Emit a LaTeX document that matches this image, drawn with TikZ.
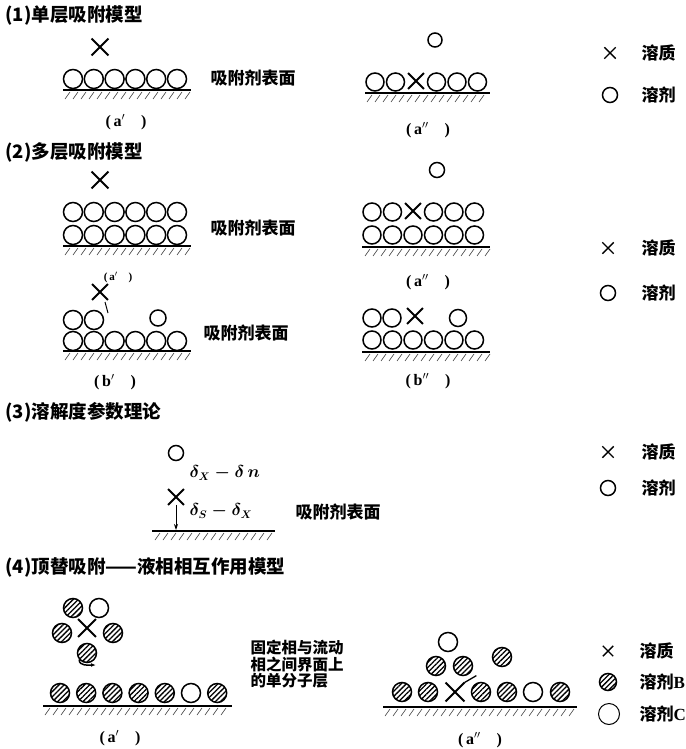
\documentclass[tikz,border=0pt]{standalone}
\usepackage{fontspec}
\setmainfont{Liberation Serif}
\newfontfamily\cjk{Noto Sans CJK SC}
\usepackage{tikz}
\usetikzlibrary{arrows.meta,shapes.misc,patterns.meta}

\begin{document}
\begin{tikzpicture}[x=1pt,y=-1pt,
  sv/.style={circle,draw,line width=1.5pt,minimum size=19pt,inner sep=0pt},
  svh/.style={sv,pattern={Lines[angle=45,distance=3.6pt,line width=1.3pt]}},
  sl/.style={cross out,draw,line width=1.8pt,minimum size=14pt,inner sep=0pt},
  surf/.style={line width=1.2pt},
  hat/.style={line width=0.6pt,black!75},
  ttl/.style={font=\cjk\bfseries\fontsize{18.5}{18.5}\selectfont,anchor=west},
  lab/.style={font=\cjk\bfseries\fontsize{17}{17}\selectfont,anchor=west},
  capt/.style={font=\bfseries\fontsize{16}{16}\selectfont},
  dlt/.style={font=\bfseries\boldmath\fontsize{16}{16}\selectfont,anchor=west}
]
  \path[use as bounding box,fill=white] (0,0) rectangle (685,749);

  \node[ttl] (t1) at (2,15) {(1)单层吸附模型};
  \node[sl,minimum size=15pt] (x1a) at (100,47) {};
  \foreach \i in {0,...,5} \node[sv] (r1a\i) at (73+20.8*\i,79) {};
  \draw[surf] (63,90) -- (191,90);
  \foreach \x in {70,78,...,190} \draw[hat] (\x,92) -- ++(-5,7);
  \node[lab] (s1a) at (207,78) {吸附剂表面};
  \node[capt] (c1a) at (126,122) {(\,a$'$\quad)};

  \node[sv,minimum size=14pt] (o1b) at (435,40) {};
  \foreach \i/\k in {0/sv,1/sv,3/sv,4/sv,5/sv} \node[\k,minimum size=18pt] (r1b\i) at (375+20.5*\i,82) {};
  \node[sl] (r1b2) at (416,81) {};
  \draw[surf] (365,93) -- (490,93);
  \foreach \x in {372,380,...,490} \draw[hat] (\x,95) -- ++(-5,7);
  \node[capt] (c1b) at (428,130) {(\,a$''$\quad)};

  \node[sl,minimum size=10pt,line width=1.4pt] (k1x) at (610,53) {};
  \node[lab] (k1xl) at (638,53) {溶质};
  \node[sv,minimum size=15pt] (k1o) at (610,95) {};
  \node[lab] (k1ol) at (638,95) {溶剂};

  \node[ttl] (t2) at (2,152) {(2)多层吸附模型};
  \node[sl,minimum size=15pt] (x2a) at (100,180) {};
  \foreach \i in {0,...,5} {
    \node[sv] (r2a\i) at (73+20.8*\i,212) {};
    \node[sv] (q2a\i) at (73+20.8*\i,235) {};
  }
  \draw[surf] (63,246) -- (191,246);
  \foreach \x in {70,78,...,190} \draw[hat] (\x,248) -- ++(-5,7);
  \node[lab] (s2a) at (207,228) {吸附剂表面};
  \node[capt,font=\bfseries\fontsize{11}{11}\selectfont] (c2a) at (118,277) {(\,a$'$\quad)};

  \node[sl] (x2b) at (100,292) {};
  \draw[line width=1pt] (105,302) -- (108,313);
  \node[sv] (r2b0) at (73,320) {};
  \node[sv] (r2b1) at (94,320) {};
  \node[sv,minimum size=16pt] (r2b2) at (158,318) {};
  \foreach \i in {0,...,5} \node[sv] (q2b\i) at (73+20.8*\i,341) {};
  \draw[surf] (63,351) -- (191,351);
  \foreach \x in {70,78,...,190} \draw[hat] (\x,353) -- ++(-5,7);
  \node[lab] (s2b) at (200,333) {吸附剂表面};
  \node[capt] (c2b) at (115,382) {(\,b$'$\quad)};

  \node[sv,minimum size=15pt] (o2c) at (437,170) {};
  \foreach \i in {0,...,5} \node[sv,minimum size=18pt] (q2c\i) at (372+20.5*\i,235) {};
  \foreach \i in {0,1,3,4,5} \node[sv,minimum size=18pt] (r2c\i) at (372+20.5*\i,212) {};
  \node[sl] (r2c2) at (413,211) {};
  \draw[surf] (362,247) -- (490,247);
  \foreach \x in {370,378,...,490} \draw[hat] (\x,249) -- ++(-5,7);
  \node[capt] (c2c) at (428,282) {(\,a$''$\quad)};

  \node[sv,minimum size=18pt] (r2d0) at (372,318) {};
  \node[sv,minimum size=18pt] (r2d1) at (392,318) {};
  \node[sl] (r2d2) at (415,316) {};
  \node[sv,minimum size=17pt] (r2d3) at (458,318) {};
  \foreach \i in {0,...,5} \node[sv,minimum size=18pt] (q2d\i) at (372+20.5*\i,340) {};
  \draw[surf] (362,352) -- (490,352);
  \foreach \x in {370,378,...,490} \draw[hat] (\x,354) -- ++(-5,7);
  \node[capt] (c2d) at (428,381) {(\,b$''$\quad)};

  \node[sl,minimum size=10pt,line width=1.4pt] (k2x) at (608,248) {};
  \node[lab] (k2xl) at (638,248) {溶质};
  \node[sv,minimum size=15pt] (k2o) at (608,293) {};
  \node[lab] (k2ol) at (638,293) {溶剂};

  \node[ttl] (t3) at (2,412) {(3)溶解度参数理论};
  \node[sv,minimum size=15pt] (o3) at (176,453) {};
  \node[dlt] (d3a) at (186,473) {$\delta_{X}-\delta\,n$};
  \node[sl] (x3) at (176,497) {};
  \coordinate (g3) at (176,530);
  \draw[-{Stealth[length=6pt,width=4pt]},line width=0.9pt] (x3) -- (g3);
  \node[dlt] (d3b) at (186,511) {$\delta_{S}-\delta_{X}$};
  \node[lab] (s3) at (292,512) {吸附剂表面};
  \draw[surf] (152,531) -- (275,531);
  \foreach \x in {160,168,...,275} \draw[hat] (\x,533) -- ++(-5,7);

  \node[sl,minimum size=10pt,line width=1.4pt] (k3x) at (608,452) {};
  \node[lab] (k3xl) at (638,452) {溶质};
  \node[sv,minimum size=15pt] (k3o) at (608,488) {};
  \node[lab] (k3ol) at (638,488) {溶剂};

  \node[ttl] (t4) at (2,567) {(4)顶替吸附——液相相互作用模型};
  \node[svh] (h4a) at (73,608) {};
  \node[sv] (o4a) at (99,608) {};
  \node[svh] (h4b) at (62,633) {};
  \node[sl,minimum size=16pt] (x4a) at (87,628) {};
  \node[svh] (h4c) at (113,633) {};
  \node[svh] (h4d) at (87,653) {};
  \coordinate (e4) at (96,665);
  \draw[-{Latex[length=5pt]},line width=1.5pt] (h4d.220) to[out=-90,in=180] (e4);
  \foreach \i/\k in {0/svh,1/svh,2/svh,3/svh,4/svh,5/sv,6/svh} \node[\k] (r4a\i) at (60+26.2*\i,693) {};
  \draw[surf] (43,706) -- (232,706);
  \foreach \x in {50,58,...,232} \draw[hat] (\x,708) -- ++(-5,7);
  \node[lab,anchor=north west,align=left,font=\cjk\bfseries\fontsize{15.5}{16.5}\selectfont] (m4) at (247,637) {固定相与流动\\相之间界面上\\的单分子层};
  \node[capt] (c4a) at (120,738) {(\,a$'$\quad)};

  \node[sv] (o4b) at (448,642) {};
  \node[svh] (h4e) at (436,666) {};
  \node[svh] (h4f) at (463,666) {};
  \node[svh] (h4g) at (502,657) {};
  \foreach \i/\x in {0/402,1/428,3/481,4/507,6/560} \node[svh] (r4b\i) at (\x,692) {};
  \node[sv] (r4b5) at (533,692) {};
  \node[sl,minimum size=17pt] (r4b2) at (455,692) {};
  \draw[line width=1.3pt] (r4b2.north east) -- ++(12,-7);
  \draw[surf] (383,707) -- (577,707);
  \foreach \x in {390,398,...,577} \draw[hat] (\x,709) -- ++(-5,7);
  \node[capt] (c4b) at (480,740) {(\,a$''$\quad)};

  \node[sl,minimum size=9pt,line width=1.4pt] (k4x) at (608,651) {};
  \node[lab] (k4xl) at (636,651) {溶质};
  \node[svh,minimum size=17pt] (k4b) at (608,682) {};
  \node[lab] (k4bl) at (636,682) {溶剂{\rmfamily B}};
  \node[sv,minimum size=21pt,line width=1pt] (k4c) at (609,714) {};
  \node[lab] (k4cl) at (636,714) {溶剂{\rmfamily C}};
\end{tikzpicture}
\end{document}
